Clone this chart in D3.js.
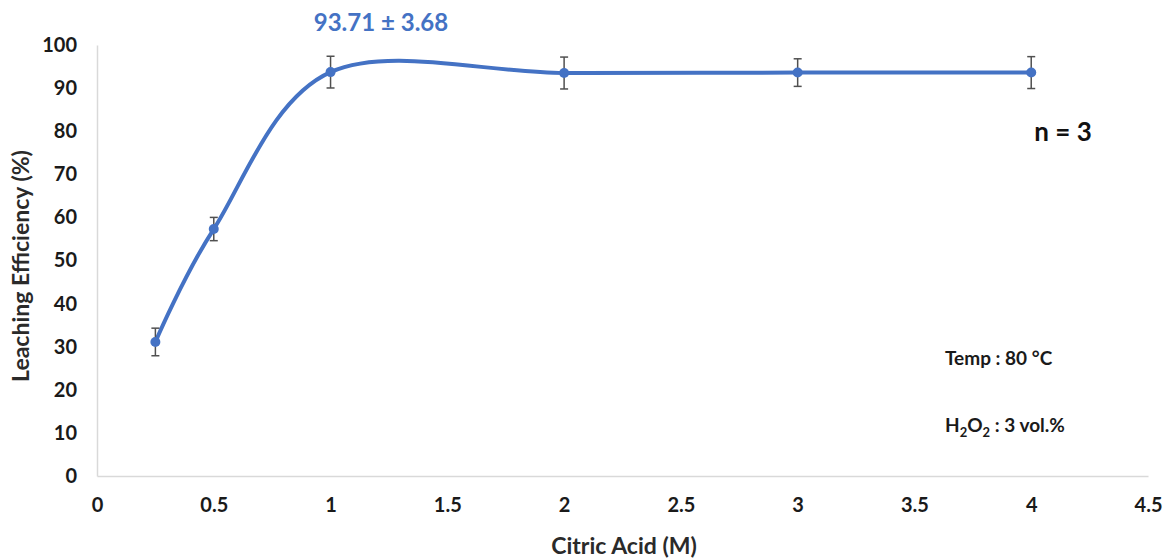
<!DOCTYPE html>
<html>
<head>
<meta charset="utf-8">
<script src="https://cdn.jsdelivr.net/npm/d3@7"></script>
<style>
  body { margin: 0; background: #fff; }
  text { font-family: Lato, "Open Sans", sans-serif; font-weight: bold; }
</style>
</head>
<body>
<svg id="chart"></svg>
<script>
// Data
const acid = [0.25, 0.5, 1, 2, 3, 4];
const efficiency = [31.1, 57.3, 93.71, 93.5, 93.6, 93.6];
const errors = [3.2, 2.7, 3.68, 3.7, 3.2, 3.7];
const xTicks = [0, 0.5, 1, 1.5, 2, 2.5, 3, 3.5, 4, 4.5];
const yTicks = [0, 10, 20, 30, 40, 50, 60, 70, 80, 90, 100];

const width = 1166;
const height = 558;
const blue = "#4472c4";

const svg = d3.select("#chart")
    .attr("width", width)
    .attr("height", height);

const x = d3.scaleLinear().domain([0, 4.5]).range([97, 1148]);
const y = d3.scaleLinear().domain([0, 100]).range([476, 45]);

// Axes (plain lines, Excel-like)
const xAxis = svg.append("g")
    .attr("transform", `translate(0,${y(0)})`)
    .call(d3.axisBottom(x).tickValues(xTicks).tickSize(0).tickPadding(22)
        .tickFormat(d => d));
xAxis.select(".domain").attr("stroke", "#d9d9d9").attr("stroke-width", 1.5);
xAxis.selectAll("text").attr("font-size", 20).attr("fill", "#1a1a1a")
    .style("font-family", "Lato, sans-serif");

const yAxis = svg.append("g")
    .attr("transform", `translate(${x(0)},0)`)
    .call(d3.axisLeft(y).tickValues(yTicks).tickSize(0).tickPadding(20));
yAxis.select(".domain").attr("stroke", "#d9d9d9").attr("stroke-width", 1.5);
yAxis.selectAll("text").attr("font-size", 20).attr("fill", "#1a1a1a");

// Smoothed line
const line = d3.line()
    .x((d, i) => x(acid[i]))
    .y(d => y(d))
    .curve(d3.curveCardinal.tension(0));

svg.append("path")
    .datum(efficiency)
    .attr("fill", "none")
    .attr("stroke", blue)
    .attr("stroke-width", 4)
    .attr("stroke-linecap", "round")
    .attr("d", line);

// Error bars
const bars = svg.append("g").attr("stroke", "#505050").attr("stroke-width", 1.5);
acid.forEach((a, i) => {
    const cx = x(a);
    const top = y(efficiency[i] + errors[i]);
    const bot = y(efficiency[i] - errors[i]);
    bars.append("line").attr("x1", cx).attr("x2", cx).attr("y1", top).attr("y2", bot);
    bars.append("line").attr("x1", cx - 4).attr("x2", cx + 4).attr("y1", top).attr("y2", top);
    bars.append("line").attr("x1", cx - 4).attr("x2", cx + 4).attr("y1", bot).attr("y2", bot);
});

// Markers
svg.append("g").selectAll("circle")
    .data(efficiency)
    .join("circle")
    .attr("cx", (d, i) => x(acid[i]))
    .attr("cy", d => y(d))
    .attr("r", 5)
    .attr("fill", blue);

// Annotations
svg.append("text")
    .attr("x", 381).attr("y", 31)
    .attr("text-anchor", "middle")
    .attr("font-size", 24)
    .attr("fill", blue)
    .text("93.71 \u00b1 3.68");

svg.append("text")
    .attr("x", 1063).attr("y", 141)
    .attr("text-anchor", "middle")
    .attr("font-size", 26)
    .attr("fill", "#111")
    .text("n = 3");

svg.append("text")
    .attr("x", 945).attr("y", 365)
    .attr("font-size", 19)
    .attr("fill", "#1a1a1a")
    .text("Temp : 80 \u00b0C");

const h2o2 = svg.append("text")
    .attr("x", 945).attr("y", 432)
    .attr("font-size", 19)
    .attr("fill", "#1a1a1a");
h2o2.append("tspan").text("H");
h2o2.append("tspan").attr("font-size", 13).attr("dy", 5).text("2");
h2o2.append("tspan").attr("dy", -5).text("O");
h2o2.append("tspan").attr("font-size", 13).attr("dy", 5).text("2");
h2o2.append("tspan").attr("dy", -5).text(" : 3 vol.%");

// Axis titles
svg.append("text")
    .attr("x", 624).attr("y", 554)
    .attr("text-anchor", "middle")
    .attr("font-size", 23)
    .attr("fill", "#2a2a2a")
    .text("Citric Acid (M)");

svg.append("text")
    .attr("transform", "translate(29,266) rotate(-90)")
    .attr("text-anchor", "middle")
    .attr("font-size", 23)
    .attr("fill", "#2a2a2a")
    .text("Leaching Efficiency (%)");
</script>
</body>
</html>
